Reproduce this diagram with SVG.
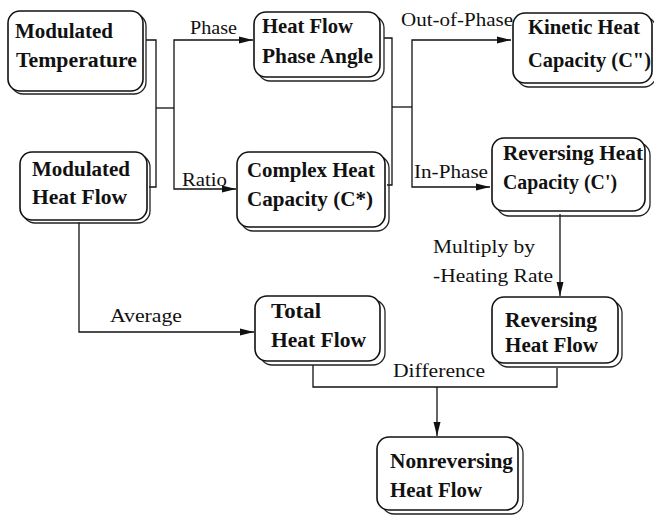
<svg xmlns="http://www.w3.org/2000/svg" width="654" height="516" viewBox="0 0 654 516">
<style>
.box{fill:#fff;stroke:#111;stroke-width:1.6}
.sh{fill:none;stroke:#222;stroke-width:1.3}
.nt{font-family:"Liberation Serif","Times New Roman",serif;font-weight:bold;font-size:20px;fill:#111}
.lb{font-family:"Liberation Serif","Times New Roman",serif;font-size:18px;fill:#111}
.c{fill:none;stroke:#111;stroke-width:1.3}
.a{marker-end:url(#arr)}
</style>
<defs>
<marker id="arr" markerUnits="userSpaceOnUse" markerWidth="15" markerHeight="10" refX="14" refY="4" orient="auto">
<path d="M0,0.5 L14,4 L0,7.5 Z" fill="#111"/>
</marker>
</defs>
<rect width="654" height="516" fill="#fff"/>
<g id="connectors">
<path class="c" d="M146 40 H156 V187 H149"/>
<path class="c" d="M156 108 H174"/>
<path class="c a" d="M174 108 V40 H253"/>
<path class="c a" d="M174 108 V189 H236"/>
<path class="c" d="M384 38 H392 V185 H387"/>
<path class="c" d="M392 107 H412"/>
<path class="c a" d="M412 107 V40 H511"/>
<path class="c a" d="M412 107 V187 H490"/>
<path class="c a" d="M560 214 V296"/>
<path class="c a" d="M79 222 V332 H254"/>
<path class="c" d="M313 365 V387 H557 V368"/>
<path class="c a" d="M437 387 V436"/>
<text class="lb" x="190" y="34" textLength="47" lengthAdjust="spacingAndGlyphs">Phase</text>
<text class="lb" x="182" y="186" textLength="45" lengthAdjust="spacingAndGlyphs">Ratio</text>
<text class="lb" x="401" y="26" textLength="112" lengthAdjust="spacingAndGlyphs">Out-of-Phase</text>
<text class="lb" x="414" y="178" textLength="74" lengthAdjust="spacingAndGlyphs">In-Phase</text>
<text class="lb" x="433" y="253" textLength="102" lengthAdjust="spacingAndGlyphs">Multiply by</text>
<text class="lb" x="433" y="282" textLength="120" lengthAdjust="spacingAndGlyphs">-Heating Rate</text>
<text class="lb" x="110" y="322" textLength="72" lengthAdjust="spacingAndGlyphs">Average</text>
<text class="lb" x="393" y="377" textLength="92" lengthAdjust="spacingAndGlyphs">Difference</text>
</g>
<g id="modulated-temperature">
<rect class="sh" x="11" y="14" width="135" height="80" rx="12"/>
<rect class="box" x="8" y="11" width="135" height="80" rx="12"/>
<text class="nt" x="15" y="38" textLength="98" lengthAdjust="spacingAndGlyphs">Modulated</text>
<text class="nt" x="16" y="67" textLength="121" lengthAdjust="spacingAndGlyphs">Temperature</text>
</g>
<g id="modulated-heat-flow">
<rect class="sh" x="23" y="155" width="127" height="68" rx="12"/>
<rect class="box" x="20" y="152" width="127" height="68" rx="12"/>
<text class="nt" x="32" y="176" textLength="98" lengthAdjust="spacingAndGlyphs">Modulated</text>
<text class="nt" x="32" y="204" textLength="95" lengthAdjust="spacingAndGlyphs">Heat Flow</text>
</g>
<g id="heat-flow-phase-angle">
<rect class="sh" x="258" y="16" width="126" height="65" rx="12"/>
<rect class="box" x="254" y="12" width="126" height="65" rx="12"/>
<text class="nt" x="262" y="33" textLength="91" lengthAdjust="spacingAndGlyphs">Heat Flow</text>
<text class="nt" x="262" y="63" textLength="111" lengthAdjust="spacingAndGlyphs">Phase Angle</text>
</g>
<g id="complex-heat-capacity">
<rect class="sh" x="241" y="156" width="148" height="75" rx="12"/>
<rect class="box" x="237" y="152" width="148" height="75" rx="12"/>
<text class="nt" x="247" y="177" textLength="128" lengthAdjust="spacingAndGlyphs">Complex Heat</text>
<text class="nt" x="247" y="206" textLength="126" lengthAdjust="spacingAndGlyphs">Capacity (C*)</text>
</g>
<g id="kinetic-heat-capacity">
<rect class="sh" x="517" y="17" width="139" height="70" rx="12"/>
<rect class="box" x="513" y="13" width="139" height="70" rx="12"/>
<text class="nt" x="528" y="34" textLength="112" lengthAdjust="spacingAndGlyphs">Kinetic Heat</text>
<text class="nt" x="528" y="67" textLength="123" lengthAdjust="spacingAndGlyphs">Capacity (C&quot;)</text>
</g>
<g id="reversing-heat-capacity">
<rect class="sh" x="497" y="143" width="153" height="73" rx="12"/>
<rect class="box" x="492" y="138" width="153" height="73" rx="12"/>
<text class="nt" x="503" y="160" textLength="140" lengthAdjust="spacingAndGlyphs">Reversing Heat</text>
<text class="nt" x="503" y="189" textLength="114" lengthAdjust="spacingAndGlyphs">Capacity (C')</text>
</g>
<g id="reversing-heat-flow">
<rect class="sh" x="496" y="301" width="126" height="66" rx="12"/>
<rect class="box" x="492" y="297" width="126" height="66" rx="12"/>
<text class="nt" x="505" y="327" textLength="92" lengthAdjust="spacingAndGlyphs">Reversing</text>
<text class="nt" x="505" y="352" textLength="93" lengthAdjust="spacingAndGlyphs">Heat Flow</text>
</g>
<g id="total-heat-flow">
<rect class="sh" x="260" y="300" width="125" height="65" rx="12"/>
<rect class="box" x="255" y="296" width="125" height="65" rx="12"/>
<text class="nt" x="271" y="318" textLength="50" lengthAdjust="spacingAndGlyphs">Total</text>
<text class="nt" x="271" y="347" textLength="95" lengthAdjust="spacingAndGlyphs">Heat Flow</text>
</g>
<g id="nonreversing-heat-flow">
<rect class="sh" x="382" y="441" width="141" height="73" rx="12"/>
<rect class="box" x="377" y="437" width="141" height="73" rx="12"/>
<text class="nt" x="390" y="468" textLength="123" lengthAdjust="spacingAndGlyphs">Nonreversing</text>
<text class="nt" x="390" y="497" textLength="92" lengthAdjust="spacingAndGlyphs">Heat Flow</text>
</g>
</svg>
